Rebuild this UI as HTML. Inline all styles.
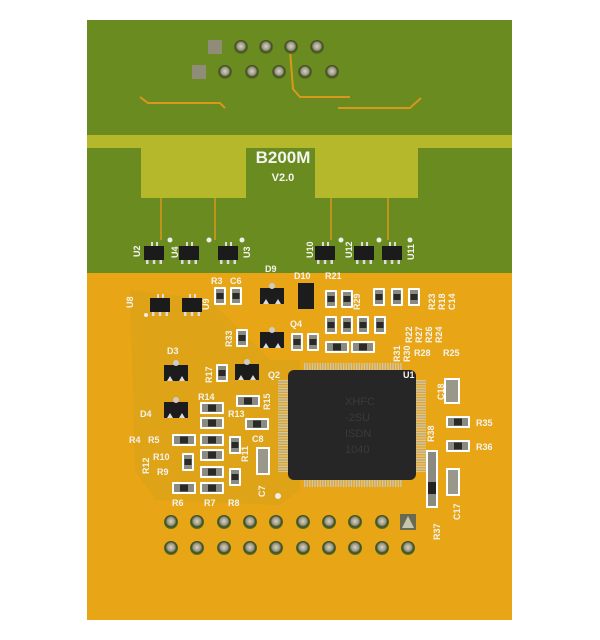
<!DOCTYPE html>
<html><head><meta charset="utf-8"><style>
html,body{margin:0;padding:0;background:#fff;width:600px;height:640px;overflow:hidden}
svg{display:block}
text{font-family:"Liberation Sans",sans-serif;font-weight:bold;fill:#f4f4f0}
text.chip{fill:#3a3a3a;font-weight:normal}
</style></head><body>
<svg width="600" height="640" viewBox="0 0 600 640" xmlns="http://www.w3.org/2000/svg">
<defs>
<radialGradient id="pin" cx="50%" cy="45%" r="50%">
<stop offset="0" stop-color="#d8d4c4"/><stop offset="0.55" stop-color="#9a9682"/><stop offset="0.8" stop-color="#3e4a22"/><stop offset="1" stop-color="#56701c"/>
</radialGradient>
<g id="rv"><rect x="-6" y="-9" width="12" height="18" fill="#fff" rx="1"/><rect x="-4" y="-7" width="8" height="14" fill="#8a8a80"/><rect x="-3.5" y="-3" width="7" height="6" fill="#2a2a28"/></g>
<g id="rh"><rect x="-12" y="-6" width="24" height="12" fill="#fff" rx="1"/><rect x="-10" y="-4" width="20" height="8" fill="#8a8a80"/><rect x="-4" y="-3.5" width="8" height="7" fill="#2a2a28"/></g>
<g id="sot"><rect x="-3" y="-11" width="2" height="4" fill="#ddd"/><rect x="2" y="-11" width="2" height="4" fill="#ddd"/><rect x="-8" y="6" width="2.5" height="5" fill="#ddd"/><rect x="-1.2" y="6" width="2.5" height="5" fill="#ddd"/><rect x="5.5" y="6" width="2.5" height="5" fill="#ddd"/><rect x="-10" y="-7" width="20" height="14" fill="#1b1b1b"/></g>
<g id="q"><rect x="-12" y="-8" width="24" height="16" fill="#1c1c1c"/><circle cx="0" cy="-10" r="3" fill="#ccc"/><path d="M-9 8 l3 -5 l3 5z M3 8 l3 -5 l3 5z" fill="#ddd"/></g>
</defs>
<rect x="87" y="20" width="425" height="600" fill="#e8a516"/>
<rect x="87" y="20" width="425" height="253" fill="#6a8b1f"/>
<rect x="87" y="135" width="425" height="13" fill="#b6b82c"/>
<rect x="141" y="135" width="105" height="63" fill="#b6b82c"/>
<rect x="315" y="135" width="103" height="63" fill="#b6b82c"/>
<path d="M130 290 L135 470 L155 500 L280 505 L300 490 L300 360 L270 360 L240 330 L210 300 Z" fill="#b49a1c" opacity="0.18"/>
<path d="M140 97 L148 103 L220 103 L225 108" stroke="#d9971c" stroke-width="2" fill="none"/>
<path d="M290 50 L293 89 L300 97 L350 97" stroke="#d9971c" stroke-width="2" fill="none"/>
<path d="M338 108 L410 108 L421 98" stroke="#d9971c" stroke-width="2" fill="none"/>
<g stroke="#d9971c" stroke-width="1.5"><line x1="161" y1="198" x2="161" y2="240"/><line x1="215" y1="198" x2="215" y2="240"/><line x1="331" y1="198" x2="331" y2="240"/><line x1="388" y1="198" x2="388" y2="240"/></g>
<text x="283" y="163" font-size="17" text-anchor="middle">B200M</text>
<text x="283" y="181" font-size="11" text-anchor="middle">V2.0</text>
<g fill="url(#pin)">
<rect x="208" y="40" width="14" height="14" fill="#8f8c78"/>
<circle cx="241" cy="47" r="7"/><circle cx="266" cy="47" r="7"/><circle cx="291" cy="47" r="7"/><circle cx="317" cy="47" r="7"/>
<rect x="192" y="65" width="14" height="14" fill="#8f8c78"/>
<circle cx="225" cy="72" r="7"/><circle cx="252" cy="72" r="7"/><circle cx="279" cy="72" r="7"/><circle cx="305" cy="72" r="7"/><circle cx="332" cy="72" r="7"/>
</g>
<use href="#sot" x="154" y="253"/><use href="#sot" x="189" y="253"/><use href="#sot" x="228" y="253"/>
<use href="#sot" x="325" y="253"/><use href="#sot" x="364" y="253"/><use href="#sot" x="392" y="253"/>
<use href="#sot" x="160" y="305"/><use href="#sot" x="192" y="305"/>
<g fill="#eee"><circle cx="170" cy="240" r="2.5"/><circle cx="209" cy="240" r="2.5"/><circle cx="242" cy="240" r="2.5"/><circle cx="341" cy="240" r="2.5"/><circle cx="379" cy="240" r="2.5"/><circle cx="410" cy="240" r="2.5"/><circle cx="146" cy="315" r="2"/></g>
<g font-size="9">
<text x="140" y="257" transform="rotate(-90 140 257)">U2</text>
<text x="178" y="258" transform="rotate(-90 178 258)">U4</text>
<text x="250" y="258" transform="rotate(-90 250 258)">U3</text>
<text x="313" y="258" transform="rotate(-90 313 258)">U10</text>
<text x="352" y="258" transform="rotate(-90 352 258)">U12</text>
<text x="414" y="260" transform="rotate(-90 414 260)">U11</text>
<text x="133" y="308" transform="rotate(-90 133 308)">U8</text>
<text x="209" y="310" transform="rotate(-90 209 310)">U9</text>
</g>
<use href="#q" x="272" y="296"/><use href="#q" x="272" y="340"/><use href="#q" x="176" y="373"/><use href="#q" x="176" y="410"/><use href="#q" x="247" y="372"/>
<rect x="298" y="283" width="16" height="26" fill="#1c1c1c"/>
<use href="#rv" x="220" y="296"/><use href="#rv" x="236" y="296"/>
<use href="#rv" x="331" y="299"/><use href="#rv" x="347" y="299"/>
<use href="#rv" x="379" y="297"/><use href="#rv" x="397" y="297"/><use href="#rv" x="414" y="297"/>
<use href="#rv" x="331" y="325"/><use href="#rv" x="347" y="325"/><use href="#rv" x="363" y="325"/><use href="#rv" x="380" y="325"/>
<use href="#rv" x="297" y="342"/><use href="#rv" x="313" y="342"/>
<use href="#rh" x="337" y="347"/><use href="#rh" x="363" y="347"/>
<use href="#rv" x="242" y="338"/><use href="#rv" x="222" y="373"/>
<use href="#rh" x="248" y="401"/><use href="#rh" x="257" y="424"/>
<use href="#rh" x="212" y="408"/><use href="#rh" x="212" y="423"/><use href="#rh" x="212" y="440"/><use href="#rh" x="212" y="455"/><use href="#rh" x="212" y="472"/><use href="#rh" x="212" y="488"/>
<use href="#rh" x="184" y="440"/><use href="#rv" x="188" y="462"/><use href="#rh" x="184" y="488"/>
<use href="#rv" x="235" y="445"/><use href="#rv" x="235" y="477"/>
<rect x="256" y="447" width="14" height="28" fill="#fff"/><rect x="258" y="449" width="10" height="24" fill="#9a988a"/>
<rect x="444" y="378" width="16" height="26" fill="#fff"/><rect x="446" y="380" width="12" height="22" fill="#9a988a"/>
<use href="#rh" x="458" y="422"/><use href="#rh" x="458" y="446"/>
<rect x="426" y="450" width="12" height="58" fill="#fff"/><rect x="428" y="452" width="8" height="54" fill="#8a8a80"/><rect x="428" y="482" width="8" height="12" fill="#222"/>
<rect x="446" y="468" width="14" height="28" fill="#fff"/><rect x="448" y="470" width="10" height="24" fill="#9a988a"/>
<!-- U1 pins as comb -->
<g stroke="#c8c8c0" stroke-width="10" stroke-dasharray="1.3 1.3" fill="none">
<line x1="304" y1="368" x2="402" y2="368"/><line x1="304" y1="482" x2="402" y2="482"/>
</g>
<g stroke="#c8c8c0" stroke-width="12" stroke-dasharray="1.3 1.3" fill="none">
<line x1="284" y1="380" x2="284" y2="472"/><line x1="420" y1="380" x2="420" y2="472"/>
</g>
<rect x="288" y="370" width="128" height="110" rx="6" fill="#262626"/>
<g font-size="11"><text class="chip" x="345" y="405">XHFC</text><text class="chip" x="345" y="421">-2SU</text><text class="chip" x="345" y="437">ISDN</text><text class="chip" x="345" y="453">1040</text></g>
<g font-size="9">
<text x="211" y="284">R3</text><text x="230" y="284">C6</text><text x="265" y="272">D9</text><text x="294" y="279">D10</text><text x="325" y="279">R21</text>
<text x="360" y="310" transform="rotate(-90 360 310)">R29</text>
<text x="435" y="310" transform="rotate(-90 435 310)">R23</text><text x="445" y="310" transform="rotate(-90 445 310)">R18</text><text x="455" y="310" transform="rotate(-90 455 310)">C14</text>
<text x="412" y="343" transform="rotate(-90 412 343)">R22</text><text x="422" y="343" transform="rotate(-90 422 343)">R27</text><text x="432" y="343" transform="rotate(-90 432 343)">R26</text><text x="442" y="343" transform="rotate(-90 442 343)">R24</text>
<text x="400" y="362" transform="rotate(-90 400 362)">R31</text><text x="410" y="362" transform="rotate(-90 410 362)">R30</text>
<text x="414" y="356">R28</text><text x="443" y="356">R25</text>
<text x="290" y="327">Q4</text><text x="232" y="347" transform="rotate(-90 232 347)">R33</text>
<text x="167" y="354">D3</text><text x="140" y="417">D4</text><text x="212" y="383" transform="rotate(-90 212 383)">R17</text>
<text x="268" y="378">Q2</text><text x="403" y="378">U1</text>
<text x="198" y="400">R14</text><text x="228" y="417">R13</text><text x="270" y="410" transform="rotate(-90 270 410)">R15</text>
<text x="129" y="443">R4</text><text x="148" y="443">R5</text><text x="153" y="460">R10</text><text x="149" y="474" transform="rotate(-90 149 474)">R12</text>
<text x="157" y="475">R9</text><text x="252" y="442">C8</text><text x="248" y="462" transform="rotate(-90 248 462)">R11</text>
<text x="265" y="497" transform="rotate(-90 265 497)">C7</text>
<text x="172" y="506">R6</text><text x="204" y="506">R7</text><text x="228" y="506">R8</text>
<text x="444" y="400" transform="rotate(-90 444 400)">C18</text><text x="476" y="426">R35</text><text x="476" y="450">R36</text>
<text x="434" y="442" transform="rotate(-90 434 442)">R38</text><text x="440" y="540" transform="rotate(-90 440 540)">R37</text>
<text x="460" y="520" transform="rotate(-90 460 520)">C17</text>
</g>
<circle cx="278" cy="496" r="3" fill="#eee"/>
<g fill="url(#pin)">
<circle cx="171" cy="522" r="7"/><circle cx="197" cy="522" r="7"/><circle cx="224" cy="522" r="7"/><circle cx="250" cy="522" r="7"/><circle cx="276" cy="522" r="7"/><circle cx="303" cy="522" r="7"/><circle cx="329" cy="522" r="7"/><circle cx="355" cy="522" r="7"/><circle cx="382" cy="522" r="7"/>
<circle cx="171" cy="548" r="7"/><circle cx="197" cy="548" r="7"/><circle cx="224" cy="548" r="7"/><circle cx="250" cy="548" r="7"/><circle cx="276" cy="548" r="7"/><circle cx="303" cy="548" r="7"/><circle cx="329" cy="548" r="7"/><circle cx="355" cy="548" r="7"/><circle cx="382" cy="548" r="7"/><circle cx="408" cy="548" r="7"/>
</g>
<rect x="400" y="514" width="16" height="16" fill="#6a6a50"/><path d="M402 528 L408 516 L414 528Z" fill="#c8c4b0"/>
</svg>
</body></html>
